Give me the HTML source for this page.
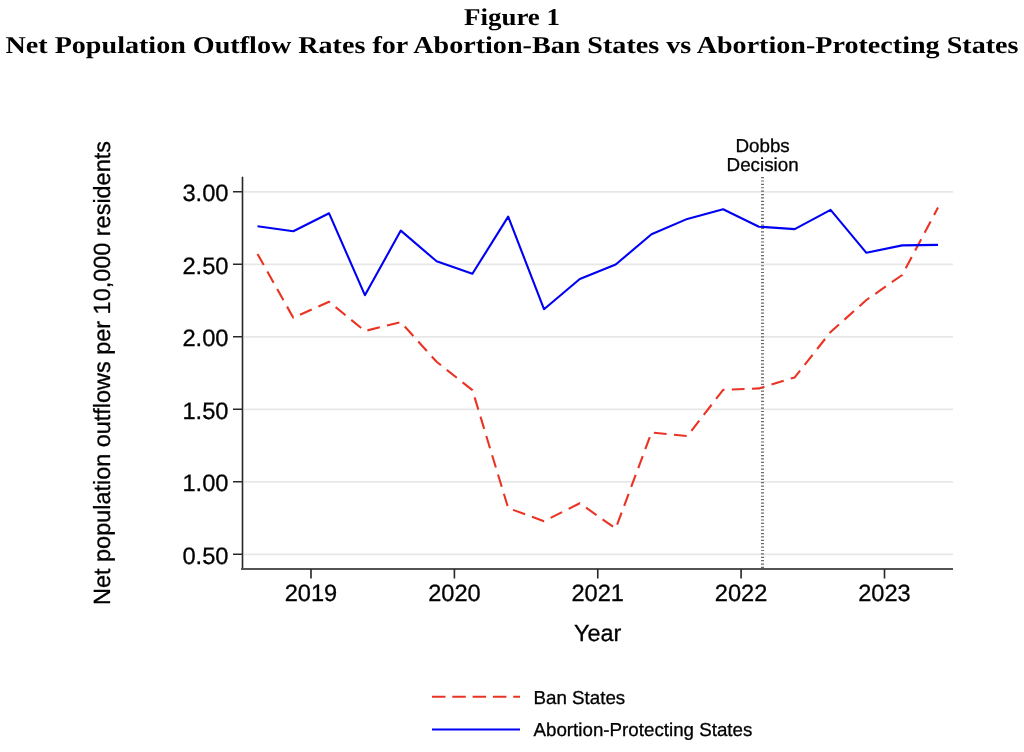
<!DOCTYPE html>
<html>
<head>
<meta charset="utf-8">
<style>
html,body{margin:0;padding:0;background:#fff;width:1024px;height:752px;overflow:hidden;}
svg{display:block;will-change:transform;}
.s{font-family:"Liberation Sans",sans-serif;fill:#000;stroke:#000;stroke-width:0.3px;text-rendering:geometricPrecision;}
.t{font-family:"Liberation Serif",serif;font-weight:bold;fill:#000;text-rendering:geometricPrecision;}
</style>
</head>
<body>
<svg width="1024" height="752" viewBox="0 0 1024 752">
<!-- Title -->
<text class="t" x="512" y="25.1" font-size="24.2" text-anchor="middle" textLength="96" lengthAdjust="spacingAndGlyphs">Figure 1</text>
<text class="t" x="512" y="52.8" font-size="24.2" text-anchor="middle" textLength="1013" lengthAdjust="spacingAndGlyphs">Net Population Outflow Rates for Abortion-Ban States vs Abortion-Protecting States</text>

<!-- gridlines -->
<g stroke="#e7e7e7" stroke-width="1.8">
<line x1="243" y1="191.8" x2="953" y2="191.8"/>
<line x1="243" y1="264.3" x2="953" y2="264.3"/>
<line x1="243" y1="336.8" x2="953" y2="336.8"/>
<line x1="243" y1="409.3" x2="953" y2="409.3"/>
<line x1="243" y1="481.8" x2="953" y2="481.8"/>
<line x1="243" y1="554.3" x2="953" y2="554.3"/>
</g>

<!-- axes -->
<g stroke="none">
<rect x="241" y="177" width="3" height="393" fill="#bcbcbc"/>
<rect x="242" y="176.7" width="1" height="393.3" fill="#282828"/>
<rect x="241" y="568" width="712" height="2" fill="#535353"/>
</g>

<g stroke="#282828" stroke-width="1.62" fill="none">

<!-- y ticks -->
<path d="M233 191.8 H242.5 M233 264.3 H242.5 M233 336.8 H242.5 M233 409.3 H242.5 M233 481.8 H242.5 M233 554.3 H242.5"/>
<!-- x ticks -->
<path d="M311 569 V578.6 M454.4 569 V578.6 M597.75 569 V578.6 M741.1 569 V578.6 M884.5 569 V578.6"/>
</g>

<!-- y tick labels -->
<g class="s" font-size="23.7" text-anchor="end">
<text x="228.5" y="201.2">3.00</text>
<text x="228.5" y="273.7">2.50</text>
<text x="228.5" y="346.2">2.00</text>
<text x="228.5" y="418.7">1.50</text>
<text x="228.5" y="491.2">1.00</text>
<text x="228.5" y="563.7">0.50</text>
</g>
<!-- x tick labels -->
<g class="s" font-size="23.6" text-anchor="middle">
<text x="311" y="601.4">2019</text>
<text x="454.4" y="601.4">2020</text>
<text x="597.75" y="601.4">2021</text>
<text x="741.1" y="601.4">2022</text>
<text x="884.5" y="601.4">2023</text>
</g>

<!-- axis titles -->
<text class="s" font-size="23.4" text-anchor="middle" x="597.6" y="641.4">Year</text>
<text class="s" font-size="23.45" text-anchor="middle" transform="translate(110 373) rotate(-90)">Net population outflows per 10,000 residents</text>

<!-- Dobbs line -->
<line x1="762.5" y1="177" x2="762.5" y2="568.3" stroke="#6a6a6a" stroke-width="3" stroke-dasharray="1.2 2.19"/>
<g class="s" font-size="18.8" text-anchor="middle">
<text x="762.6" y="152.3">Dobbs</text>
<text x="762.6" y="170.8">Decision</text>
</g>

<!-- red series -->
<polyline fill="none" stroke="#ea3323" stroke-width="2.1" stroke-linejoin="round" stroke-dasharray="12.8 7.35"
points="257.5,253.9 293.3,317.8 329.1,301.8 364.9,331.0 400.8,322.2 436.6,361.8 472.4,390.1 508.2,508.1 544.0,521.2 579.8,503.3 615.7,528.5 651.5,432.5 687.3,436.1 723.1,389.9 758.9,388.4 794.7,377.4 830.6,332 866.4,300 902.2,275 938.0,207.6"/>

<!-- blue series -->
<polyline fill="none" stroke="#0000f5" stroke-width="2.1" stroke-linejoin="round"
points="257.5,226.3 293.3,231.3 329.1,213.3 364.9,295.2 400.8,230.6 436.6,261.3 472.4,273.8 508.2,216.6 544.0,309.2 579.8,279.0 615.7,264.5 651.5,234.3 687.3,218.9 723.1,209.2 758.9,226.7 794.7,229.1 830.6,209.9 866.4,252.8 902.2,245.4 938.0,244.9"/>

<!-- legend -->
<line x1="432" y1="696.7" x2="520" y2="696.7" stroke="#ea3323" stroke-width="2" stroke-dasharray="13.5 6.8"/>
<line x1="432" y1="729.5" x2="520" y2="729.5" stroke="#0000f5" stroke-width="2"/>
<g class="s" font-size="18.75">
<text x="533.5" y="703.9">Ban States</text>
<text x="533.5" y="736.2">Abortion-Protecting States</text>
</g>
</svg>
</body>
</html>
